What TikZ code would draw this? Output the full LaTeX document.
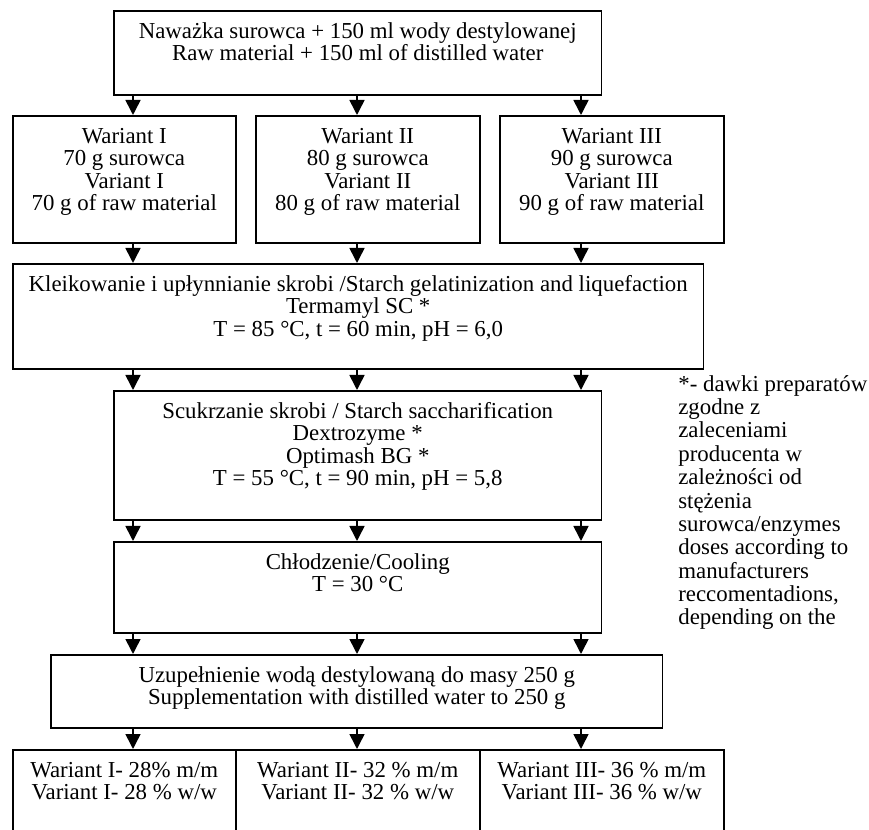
\documentclass[tikz,border=0pt]{standalone}
\usepackage{fontspec}
\setmainfont{Liberation Serif}
\usetikzlibrary{arrows.meta}

% text of a box, set from its top edge
\newcommand{\stagetext}[3]{\parbox[b][#2][t]{#1}{\centering\rule{0pt}{0.55cm}#3}}

\begin{document}
\begin{tikzpicture}[x=0.02cm, y=-0.02cm,
        font=\fontsize{13pt}{12.8pt}\selectfont,
        stage/.style={draw, line width=0.9pt, anchor=north west, inner sep=0pt},
        flow/.style={line width=0.9pt, -{Triangle[length=0.3cm, width=0.3cm]}}]
        \clip (0,0) rectangle (869,830);
        \coordinate (c1) at (133,0);
        \coordinate (c2) at (357,0);
        \coordinate (c3) at (581,0);
        \node [stage] (start) at (113,10) {\stagetext{9.76cm}{1.68cm}{Naważka surowca + 150 ml wody destylowanej\\Raw material + 150 ml of distilled water}};
        \node [stage] (var1) at (12,115) {\stagetext{4.46cm}{2.54cm}{Wariant I\\70 g surowca\\Variant I\\70 g of raw material}};
        \node [stage] (var2) at (255,115) {\stagetext{4.48cm}{2.54cm}{Wariant II\\80 g surowca\\Variant II\\80 g of raw material}};
        \node [stage] (var3) at (499,115) {\stagetext{4.48cm}{2.54cm}{Wariant III\\90 g surowca\\Variant III\\90 g of raw material}};
        \node [stage] (gelat) at (12,263) {\stagetext{13.82cm}{2.1cm}{Kleikowanie i upłynnianie skrobi /Starch gelatinization and liquefaction\\Termamyl SC *\\T = 85 °C, t = 60 min, pH = 6,0}};
        \node [stage] (sacch) at (113,390) {\stagetext{9.76cm}{2.58cm}{Scukrzanie skrobi / Starch saccharification\\Dextrozyme *\\Optimash BG *\\T = 55 °C, t = 90 min, pH = 5,8}};
        \node [stage] (cool) at (113,541) {\stagetext{9.76cm}{1.82cm}{Chłodzenie/Cooling\\T = 30 °C}};
        \node [stage] (fill) at (50,654) {\stagetext{12.24cm}{1.46cm}{Uzupełnienie wodą destylowaną do masy 250 g\\Supplementation with distilled water to 250 g}};
        \node [stage] (res1) at (12,749) {\stagetext{4.46cm}{2cm}{Wariant I- 28\% m/m\\Variant I- 28 \% w/w}};
        \node [stage] (res2) at (235,749) {\stagetext{4.88cm}{2cm}{Wariant II- 32 \% m/m\\Variant II- 32 \% w/w}};
        \node [stage] (res3) at (479,749) {\stagetext{4.88cm}{2cm}{Wariant III- 36 \% m/m\\Variant III- 36 \% w/w}};
        \node [anchor=north west, inner sep=0pt, align=left, font=\fontsize{13pt}{13.3pt}\selectfont] (note) at (678,375) {*- dawki preparatów\\zgodne z\\zaleceniami\\producenta w\\zależności od\\stężenia\\surowca/enzymes\\doses according to\\manufacturers\\reccomentadions,\\depending on the};
        % arrows
        \draw[flow] (start.south -| c1) -- (var1.north -| c1);
        \draw[flow] (start.south -| c2) -- (var2.north -| c2);
        \draw[flow] (start.south -| c3) -- (var3.north -| c3);
        \draw[flow] (var1.south -| c1) -- (gelat.north -| c1);
        \draw[flow] (var2.south -| c2) -- (gelat.north -| c2);
        \draw[flow] (var3.south -| c3) -- (gelat.north -| c3);
        \draw[flow] (gelat.south -| c1) -- (sacch.north -| c1);
        \draw[flow] (gelat.south -| c2) -- (sacch.north -| c2);
        \draw[flow] (gelat.south -| c3) -- (sacch.north -| c3);
        \draw[flow] (sacch.south -| c1) -- (cool.north -| c1);
        \draw[flow] (sacch.south -| c2) -- (cool.north -| c2);
        \draw[flow] (sacch.south -| c3) -- (cool.north -| c3);
        \draw[flow] (cool.south -| c1) -- (fill.north -| c1);
        \draw[flow] (cool.south -| c2) -- (fill.north -| c2);
        \draw[flow] (cool.south -| c3) -- (fill.north -| c3);
        \draw[flow] (fill.south -| c1) -- (res1.north -| c1);
        \draw[flow] (fill.south -| c2) -- (res2.north -| c2);
        \draw[flow] (fill.south -| c3) -- (res3.north -| c3);
    \end{tikzpicture}
\end{document}
